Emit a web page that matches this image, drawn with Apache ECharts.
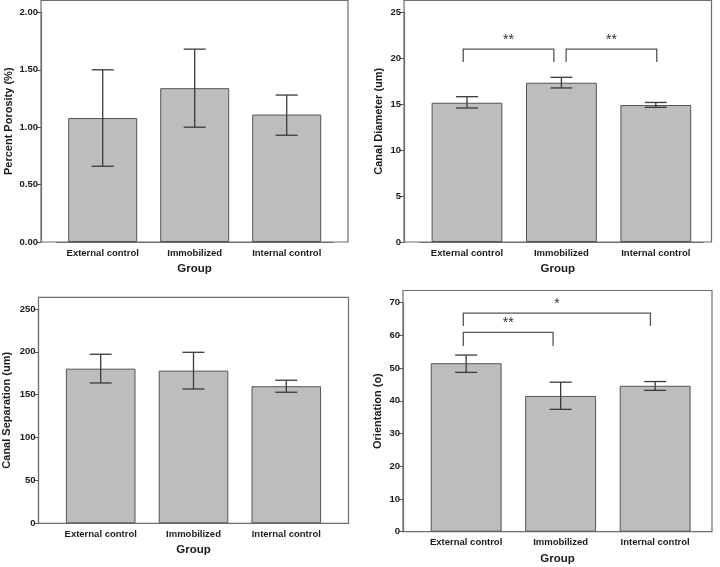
<!DOCTYPE html>
<html>
<head>
<meta charset="utf-8">
<script src="https://cdn.jsdelivr.net/npm/echarts@6/dist/echarts.min.js"></script>
<style>html,body{margin:0;padding:0;background:#fff}#c{width:720px;height:567px}</style>
</head>
<body>
<div id="c"></div>
<script>
// ---- data ----
const categories = ['External control', 'Immobilized', 'Internal control'];

const porosityMean = [1.08, 1.34, 1.11];
const porosityLow  = [0.66, 1.00, 0.93];
const porosityHigh = [1.50, 1.68, 1.28];

const diameterMean = [15.17, 17.35, 14.92];
const diameterLow  = [14.60, 16.78, 14.67];
const diameterHigh = [15.83, 17.94, 15.20];

const separationMean = [180.4, 178.1, 159.9];
const separationLow  = [163.7, 156.7, 152.9];
const separationHigh = [197.2, 199.5, 166.9];

const orientationMean = [51.5, 41.5, 44.6];
const orientationLow  = [48.7, 37.4, 43.2];
const orientationHigh = [54.0, 45.7, 45.9];

// significance brackets: [left position, right position, line level, leg bottom] in category/value units
const diameterBrackets = [[-0.04, 0.92, 21.0, 19.6], [1.05, 2.01, 21.0, 19.6]];
const diameterBracketLabels = ['**', '**'];
const orientationBrackets = [[-0.03, 1.95, 66.8, 62.9], [-0.03, 0.92, 60.9, 56.8]];
const orientationBracketLabels = ['*', '**'];

const yTitles = ['Percent Porosity (%)', 'Canal Diameter (um)', 'Canal Separation (um)', 'Orientation (o)'];
const xTitle = 'Group';

// ---- layout / style ----
const FONT = '"Liberation Sans", Arial, Helvetica, sans-serif';
const panels = [
  { frame: {left: 41, top: 0.5, width: 307, height: 241.5},
    data: {left: 56.7, top: 12.4, width: 276, height: 229.6},
    yMin: 0, yMax: 2, interval: 0.5, dec: 2, nameGap: 27,
    mean: porosityMean, low: porosityLow, high: porosityHigh, brackets: [], labels: [] },
  { frame: {left: 404, top: 0.5, width: 307.5, height: 241.5},
    data: {left: 419.8, top: 12.5, width: 283.2, height: 229.5},
    yMin: 0, yMax: 25, interval: 5, dec: 0, nameGap: 20,
    mean: diameterMean, low: diameterLow, high: diameterHigh, brackets: diameterBrackets, labels: diameterBracketLabels },
  { frame: {left: 38.5, top: 297.3, width: 310, height: 226},
    data: {left: 54.3, top: 309, width: 278.4, height: 214.3},
    yMin: 0, yMax: 250, interval: 50, dec: 0, nameGap: 26,
    mean: separationMean, low: separationLow, high: separationHigh, brackets: [], labels: [] },
  { frame: {left: 403, top: 290.5, width: 309, height: 241.2},
    data: {left: 418.9, top: 302.7, width: 283.5, height: 229},
    yMin: 0, yMax: 70, interval: 10, dec: 0, nameGap: 20,
    mean: orientationMean, low: orientationLow, high: orientationHigh, brackets: orientationBrackets, labels: orientationBracketLabels }
];

const grid = [], xAxis = [], yAxis = [], series = [];
panels.forEach((p, k) => {
  const fi = grid.length;
  grid.push(Object.assign({show: true, borderColor: '#6e6e6e', borderWidth: 1.2, backgroundColor: 'transparent', containLabel: false}, p.frame));
  const di = grid.length;
  grid.push(Object.assign({show: false, containLabel: false}, p.data));

  // frame axes (only carry titles)
  xAxis.push({type: 'category', gridIndex: fi, data: [''], axisLine: {show: false}, axisTick: {show: false},
    axisLabel: {show: false}, splitLine: {show: false},
    name: xTitle, nameLocation: 'middle', nameGap: 21,
    nameTextStyle: {fontFamily: FONT, fontWeight: 'bold', fontSize: 11.5, color: '#1a1a1a'}});
  yAxis.push({type: 'value', gridIndex: fi, axisLine: {show: false}, axisTick: {show: false},
    axisLabel: {show: false}, splitLine: {show: false},
    name: yTitles[k], nameLocation: 'middle', nameRotate: 90, nameGap: p.nameGap,
    nameTextStyle: {fontFamily: FONT, fontWeight: 'bold', fontSize: 11, color: '#1a1a1a'}});

  // data axes
  const xi = xAxis.length;
  xAxis.push({type: 'category', gridIndex: di, data: categories, boundaryGap: true,
    axisLine: {lineStyle: {color: '#6e6e6e', width: 1.2}},
    axisTick: {alignWithLabel: true, length: 4, interval: 0, lineStyle: {color: '#555'}},
    axisLabel: {interval: 0, hideOverlap: false, fontFamily: FONT, fontWeight: 'bold', fontSize: 9.5, color: '#1a1a1a', margin: 6}});
  const yi = yAxis.length;
  yAxis.push({type: 'value', gridIndex: di, min: p.yMin, max: p.yMax, interval: p.interval,
    offset: p.data.left - p.frame.left,
    axisLine: {show: true, lineStyle: {color: '#6e6e6e', width: 1.2}},
    axisTick: {show: true, length: 4, lineStyle: {color: '#555'}},
    splitLine: {show: false},
    axisLabel: {fontFamily: FONT, fontWeight: 'bold', fontSize: 9.5, color: '#1a1a1a', margin: 3,
      formatter: v => Number(v).toFixed(p.dec)}});

  series.push({type: 'bar', xAxisIndex: xi, yAxisIndex: yi, data: p.mean, barWidth: '75%',
    itemStyle: {color: '#bdbdbd', borderColor: '#555', borderWidth: 1}, silent: true});

  series.push({type: 'custom', xAxisIndex: xi, yAxisIndex: yi, silent: true, z: 5,
    data: p.mean.map((m, i) => [i, p.low[i], p.high[i]]),
    encode: {x: 0, y: [1, 2]},
    renderItem: (params, api) => {
      const lo = api.coord([api.value(0), api.value(1)]);
      const hi = api.coord([api.value(0), api.value(2)]);
      const h = 11;
      const st = {stroke: '#3a3a3a', lineWidth: 1.3};
      return {type: 'group', children: [
        {type: 'line', shape: {x1: lo[0], y1: lo[1], x2: hi[0], y2: hi[1]}, style: st},
        {type: 'line', shape: {x1: hi[0] - h, y1: hi[1], x2: hi[0] + h, y2: hi[1]}, style: st},
        {type: 'line', shape: {x1: lo[0] - h, y1: lo[1], x2: lo[0] + h, y2: lo[1]}, style: st}
      ]};
    }});

  if (p.brackets.length) {
    series.push({type: 'custom', xAxisIndex: xi, yAxisIndex: yi, silent: true, z: 5,
      data: p.brackets, encode: {y: [2, 3]},
      renderItem: (params, api) => {
        const band = api.size([1, 0])[0];
        const base = api.coord([0, api.value(2)]);
        const legB = api.coord([0, api.value(3)])[1];
        const x1 = base[0] + api.value(0) * band;
        const x2 = base[0] + api.value(1) * band;
        const y = base[1];
        const st = {stroke: '#555', lineWidth: 1.3};
        return {type: 'group', children: [
          {type: 'polyline', shape: {points: [[x1, legB], [x1, y], [x2, y], [x2, legB]]}, style: Object.assign({fill: null}, st)},
          {type: 'text', style: {text: p.labels[params.dataIndex], x: (x1 + x2) / 2, y: y - 2,
            align: 'center', verticalAlign: 'bottom', font: '14px ' + FONT, fill: '#333'}}
        ]};
      }});
  }
});

const chart = echarts.init(document.getElementById('c'));
chart.setOption({animation: false, grid, xAxis, yAxis, series});
</script>
</body>
</html>
